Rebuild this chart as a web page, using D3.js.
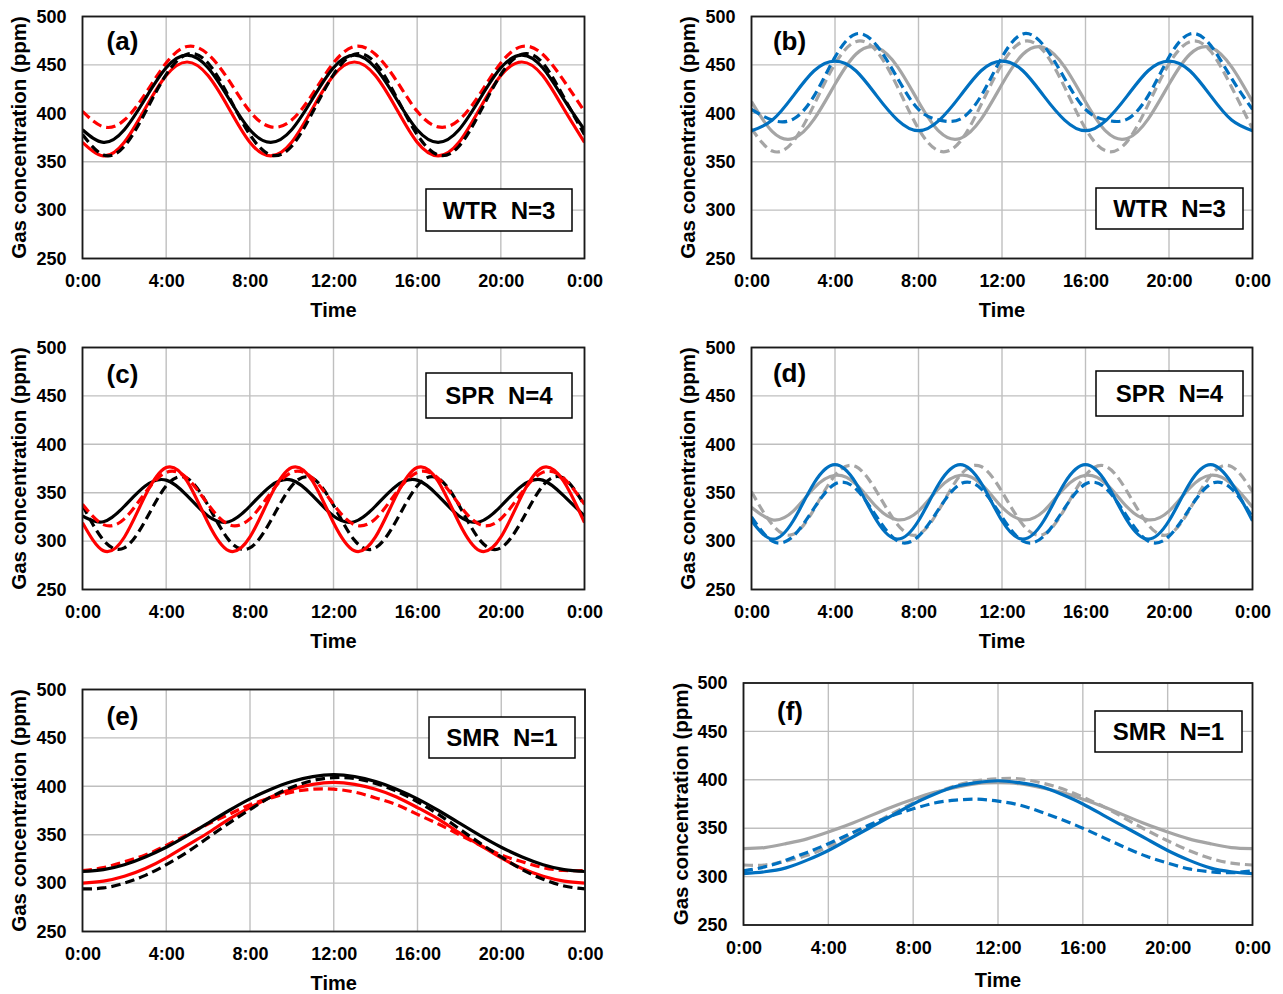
<!DOCTYPE html>
<html>
<head>
<meta charset="utf-8">
<script src="https://cdn.jsdelivr.net/npm/d3@7"></script>
<style>
  html, body { margin: 0; padding: 0; background: #fff; }
  svg { display: block; font-family: "Liberation Sans", Arial, sans-serif; font-weight: bold; }
</style>
</head>
<body>
<svg id="chart" width="1283" height="994"></svg>
<script>
// ---- data: hourly gas concentration (ppm), 0:00 to the next 0:00 ----
const hours = [0,1,2,3,4,5,6,7,8,9,10,11,12,13,14,15,16,17,18,19,20,21,22,23,24];
const xTickValues = [0, 4, 8, 12, 16, 20, 24];
const xTickLabels = ["0:00", "4:00", "8:00", "12:00", "16:00", "20:00", "0:00"];
const yTickValues = [250, 300, 350, 400, 450, 500];

// (a) winter, N=3
const a_redSolid   = [370,356,370,405,439,453,439,405, 370,356,370,405,439,453,439,405, 370,356,370,405,439,453,439,405, 370];
const a_redDashed  = [402,386,393,420,452,469,461,434, 402,386,393,420,452,469,461,434, 402,386,393,420,452,469,461,434, 402];
const a_blackSolid = [383,370,383,415,447,460,447,415, 383,370,383,415,447,460,447,415, 383,370,383,415,447,460,447,415, 383];
const a_blackDashed= [378,357,366,401,440,461,452,417, 378,357,366,401,440,461,452,417, 378,357,366,401,440,461,452,417, 378];

// (b) winter, N=3
const b_blueSolid  = [382,393,418,444,454,444,418,393, 382,393,418,444,454,444,418,393, 382,393,418,444,454,444,418,393, 382];
const b_blueDashed = [404,393,394,418,458,482,470,436, 404,393,394,418,458,482,470,436, 404,393,394,418,458,482,470,436, 404];
const b_graySolid  = [412,381,374,394,430,461,468,448, 412,381,374,394,430,461,468,448, 412,381,374,394,430,461,468,448, 412];
const b_grayDashed = [384,361,371,409,451,474,464,427, 384,361,371,409,451,474,464,427, 384,361,371,409,451,474,464,427, 384];

// (c) spring, N=4
const c_redSolid   = [319,290,304,347,376,362, 319,290,304,347,376,362, 319,290,304,347,376,362, 319,290,304,347,376,362, 319];
const c_redDashed  = [338,317,323,350,371,365, 338,317,323,350,371,365, 338,317,323,350,371,365, 338,317,323,350,371,365, 338];
const c_blackSolid = [326,320,336,357,363,347, 326,320,336,357,363,347, 326,320,336,357,363,347, 326,320,336,357,363,347, 326];
const c_blackDashed= [337,301,293,321,357,365, 337,301,293,321,357,365, 337,301,293,321,357,365, 337,301,293,321,357,365, 337];

// (d) spring, N=4
const d_blueSolid  = [321,302,321,360,379,360, 321,302,321,360,379,360, 321,302,321,360,379,360, 321,302,321,360,379,360, 321];
const d_blueDashed = [325,300,305,334,359,354, 325,300,305,334,359,354, 325,300,305,334,359,354, 325,300,305,334,359,354, 325];
const d_graySolid  = [335,322,331,355,368,359, 335,322,331,355,368,359, 335,322,331,355,368,359, 335,322,331,355,368,359, 335];
const d_grayDashed = [351,317,307,333,368,377, 351,317,307,333,368,377, 351,317,307,333,368,377, 351,317,307,333,368,377, 351];

// (e) summer, N=1
const e_redSolid   = [300,302,307,315,326,339,352,366,378,389,397,402,404,402,397,389,378,366,352,339,326,315,307,302,300];
const e_redDashed  = [313,316,322,329,339,350,361,371,381,388,394,397,397,394,388,381,371,361,350,339,329,322,316,313,313];
const e_blackSolid = [312,314,319,327,337,349,362,375,387,397,405,410,412,410,405,397,387,375,362,349,337,327,319,314,312];
const e_blackDashed= [294,295,300,308,319,332,347,362,376,389,399,406,409,408,403,395,384,371,356,341,327,314,304,297,294];

// (f) summer, N=1
const f_blueSolid  = [303,305,309,317,327,339,351,363,375,385,393,397,399,397,393,385,375,363,351,339,327,317,309,305,303];
const f_blueDashed = [306,310,317,325,334,344,354,363,370,376,379,380,378,374,367,359,350,340,330,321,314,308,305,304,306];
const f_graySolid  = [329,330,334,339,346,354,363,372,380,387,392,396,397,396,392,387,380,372,363,354,346,339,334,330,329];
const f_grayDashed = [312,312,316,322,331,342,353,365,376,386,394,399,401,401,397,391,382,372,360,348,337,327,319,314,312];

// ---- styling ----
const RED = "#ff0000", BLACK = "#000000", BLUE = "#0070c0", GRAY = "#a5a5a5";
const DASH = "9.5,5";

// ---- panel layout ----
const panels = [
  { tag: "(a)", label: "WTR  N=3", left: 82.5, right: 584.5, top: 16.5, bottom: 258.5,
    letter: [122.5, 50], box: [426, 189, 572, 231], yTitleX: 19, timeDy: 58.5,
    series: [[a_redSolid, RED, false], [a_redDashed, RED, true], [a_blackSolid, BLACK, false], [a_blackDashed, BLACK, true]] },
  { tag: "(b)", label: "WTR  N=3", left: 751.5, right: 1252.5, top: 16.5, bottom: 258.5,
    letter: [789.5, 50], box: [1096, 188, 1243, 229], yTitleX: 688, timeDy: 58.5,
    series: [[b_graySolid, GRAY, false], [b_grayDashed, GRAY, true], [b_blueSolid, BLUE, false], [b_blueDashed, BLUE, true]] },
  { tag: "(c)", label: "SPR  N=4", left: 82.5, right: 584.5, top: 347.5, bottom: 589.5,
    letter: [122.5, 383], box: [426, 373, 572, 418], yTitleX: 19, timeDy: 58.5,
    series: [[c_blackSolid, BLACK, false], [c_blackDashed, BLACK, true], [c_redSolid, RED, false], [c_redDashed, RED, true]] },
  { tag: "(d)", label: "SPR  N=4", left: 751.5, right: 1252.5, top: 347.5, bottom: 589.5,
    letter: [789.5, 382], box: [1096, 371, 1243, 416], yTitleX: 688, timeDy: 58.5,
    series: [[d_graySolid, GRAY, false], [d_grayDashed, GRAY, true], [d_blueSolid, BLUE, false], [d_blueDashed, BLUE, true]] },
  { tag: "(e)", label: "SMR  N=1", left: 82.5, right: 585, top: 689.5, bottom: 931.5,
    letter: [122.5, 725], box: [429, 717, 575, 758], yTitleX: 19, timeDy: 58.5,
    series: [[e_redSolid, RED, false], [e_redDashed, RED, true], [e_blackDashed, BLACK, true], [e_blackSolid, BLACK, false]] },
  { tag: "(f)", label: "SMR  N=1", left: 743.5, right: 1252.5, top: 683, bottom: 925,
    letter: [790, 720], box: [1095, 711, 1242, 752], yTitleX: 681, timeDy: 62,
    series: [[f_graySolid, GRAY, false], [f_grayDashed, GRAY, true], [f_blueSolid, BLUE, false], [f_blueDashed, BLUE, true]] }
];

const svg = d3.select("#chart");
svg.append("rect").attr("width", 1283).attr("height", 994).attr("fill", "#fff");

panels.forEach((p, i) => {
  const x = d3.scaleLinear().domain([0, 24]).range([p.left, p.right]);
  const y = d3.scaleLinear().domain([250, 500]).range([p.bottom, p.top]);
  const g = svg.append("g");

  // gridlines
  g.append("g").selectAll("line.h").data(yTickValues).join("line")
    .attr("x1", p.left).attr("x2", p.right)
    .attr("y1", d => y(d)).attr("y2", d => y(d))
    .attr("stroke", "#bfbfbf").attr("stroke-width", 1.4);
  g.append("g").selectAll("line.v").data(xTickValues).join("line")
    .attr("y1", p.top).attr("y2", p.bottom)
    .attr("x1", d => x(d)).attr("x2", d => x(d))
    .attr("stroke", "#bfbfbf").attr("stroke-width", 1.4);

  // legend box
  const [bx0, by0, bx1, by1] = p.box;
  g.append("rect").attr("x", bx0).attr("y", by0).attr("width", bx1 - bx0).attr("height", by1 - by0)
    .attr("fill", "#fff").attr("stroke", "#000").attr("stroke-width", 1.5);
  g.append("text").attr("x", (bx0 + bx1) / 2).attr("y", (by0 + by1) / 2).attr("dy", "0.36em")
    .attr("text-anchor", "middle").attr("font-size", 24).style("white-space", "pre")
    .attr("xml:space", "preserve").text(p.label);

  // series
  const clipId = "clip" + i;
  svg.append("defs").append("clipPath").attr("id", clipId).append("rect")
    .attr("x", p.left).attr("y", p.top).attr("width", p.right - p.left).attr("height", p.bottom - p.top);
  const line = d3.line().x((d, k) => x(hours[k])).y(d => y(d)).curve(d3.curveNatural);
  const lines = g.append("g").attr("clip-path", `url(#${clipId})`);
  p.series.forEach(([vals, color, dashed]) => {
    lines.append("path").attr("d", line(vals)).attr("fill", "none")
      .attr("stroke", color).attr("stroke-width", 3.2)
      .attr("stroke-dasharray", dashed ? DASH : null);
  });

  // frame
  g.append("rect").attr("x", p.left).attr("y", p.top)
    .attr("width", p.right - p.left).attr("height", p.bottom - p.top)
    .attr("fill", "none").attr("stroke", "#1a1a1a").attr("stroke-width", 1.8);

  // axes
  const xAxis = d3.axisBottom(x).tickValues(xTickValues).tickSize(0).tickPadding(16)
    .tickFormat((d, k) => xTickLabels[k]);
  const gx = g.append("g").attr("transform", `translate(0,${p.bottom})`).call(xAxis);
  gx.select(".domain").remove();
  gx.selectAll("text").attr("font-size", 18).attr("font-family", null).attr("fill", "#000");

  const yAxis = d3.axisLeft(y).tickValues(yTickValues).tickSize(0).tickPadding(16);
  const gy = g.append("g").attr("transform", `translate(${p.left},0)`).call(yAxis);
  gy.select(".domain").remove();
  gy.selectAll("text").attr("font-size", 18).attr("font-family", null).attr("fill", "#000");

  // titles
  g.append("text").attr("x", (p.left + p.right) / 2).attr("y", p.bottom + p.timeDy)
    .attr("text-anchor", "middle").attr("font-size", 20).text("Time");
  g.append("text").attr("transform", `translate(${p.yTitleX},${(p.top + p.bottom) / 2}) rotate(-90)`)
    .attr("dy", "0.35em").attr("text-anchor", "middle").attr("font-size", 20.5)
    .text("Gas concentration (ppm)");

  // panel tag
  g.append("text").attr("x", p.letter[0]).attr("y", p.letter[1])
    .attr("text-anchor", "middle").attr("font-size", 26).text(p.tag);
});
</script>
</body>
</html>
